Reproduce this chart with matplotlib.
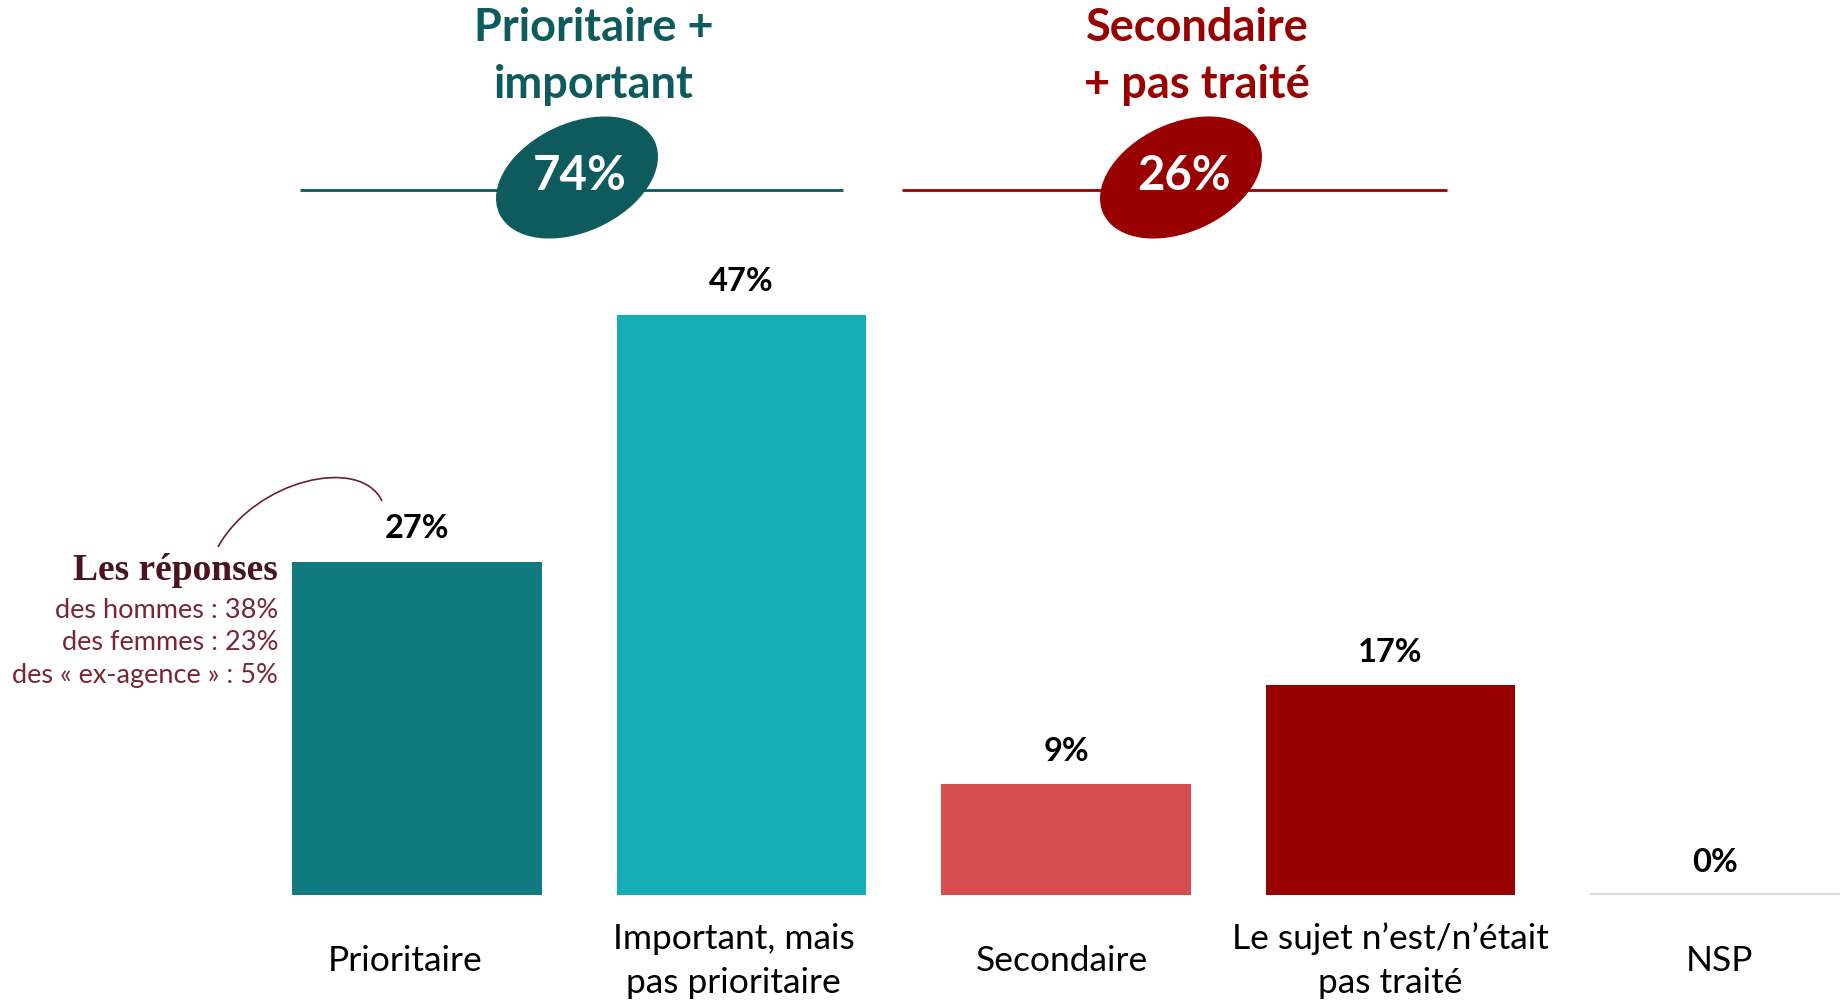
import matplotlib
matplotlib.use("Agg")
import matplotlib.pyplot as plt
from matplotlib.patches import Ellipse, PathPatch
from matplotlib.path import Path
from matplotlib.transforms import ScaledTranslation

# ---------------- data ----------------
categories = ["Prioritaire", "Important, mais\npas prioritaire", "Secondaire",
              "Le sujet n\u2019est/n\u2019était\npas traité", "NSP"]
values = [27, 47, 9, 17, 0]
bar_colors = ["#107a80", "#14afb6", "#d84e50", "#990000", "#d9d9d9"]

group_titles = ["Prioritaire +\nimportant", "Secondaire\n+ pas traité"]
group_totals = ["74%", "26%"]
group_colors = ["#0e5b5d", "#990000"]

note_title = "Les réponses"
note_lines = ["des hommes : 38%", "des femmes : 23%", "des \u00ab ex-agence \u00bb : 5%"]

W, H = 1842, 1001
fig = plt.figure(figsize=(W / 100, H / 100), dpi=100)
fig.patch.set_facecolor("white")

# ---------------- bar axes ----------------
px_per_unit = 12.35
bottom_px = 895
left_px = 417 - 162.25
ax = fig.add_axes([left_px / W, (H - bottom_px) / H, 1622.5 / W, 60 * px_per_unit / H])
ax.set_xlim(-0.5, 4.5)
ax.set_ylim(0, 60)
x = list(range(len(values)))
bw = 0.77
for xi, v, c in zip(x, values, bar_colors):
    if v > 0:
        ax.bar(xi, v, width=bw, color=c, zorder=2)
    else:
        ax.hlines(0, xi - bw / 2, xi + bw / 2, color=c, lw=3, zorder=2)
    ax.annotate(f"{v}%", (xi, v), xytext=(0, 23.5), textcoords="offset points",
                ha="center", va="center", fontsize=23.5, fontweight="bold",
                family="Lato", color="black")

ax.set_xticks(x)
ax.set_xticklabels(categories, family="Lato", fontsize=25.5, linespacing=1.45)
ax.tick_params(axis="x", length=0, pad=47.5)
label_shift_px = [-12, -8, -4, 0, 4]
for lab, dx in zip(ax.get_xticklabels(), label_shift_px):
    lab.set_va("center")
    lab.set_transform(lab.get_transform() + ScaledTranslation(dx / 100, 0, fig.dpi_scale_trans))
ax.set_yticks([])
for s in ax.spines.values():
    s.set_visible(False)
ax.patch.set_alpha(0)

# ---------------- overlay (pixel layout) ----------------
ov = fig.add_axes([0, 0, 1, 1], zorder=5)
ov.set_xlim(0, W)
ov.set_ylim(H, 0)
ov.axis("off")
ov.patch.set_alpha(0)

line_spans = [(300, 843), (902, 1447)]
title_x = [594, 1197]
ell_c = [(577, 177.5), (1181, 177.5)]
for t, tot, col, (x0, x1), tx, (ex, ey) in zip(group_titles, group_totals, group_colors,
                                                line_spans, title_x, ell_c):
    ov.plot([x0, x1], [189.5, 189.5], color=col, lw=2, solid_capstyle="butt")
    ov.add_patch(Ellipse((ex, ey), 170, 107, angle=-25, color=col, zorder=3))
    l1, l2 = t.split("\n")
    ov.text(tx, 41, l1, ha="center", va="baseline", fontsize=32.5, fontweight="bold",
            family="Lato", color=col)
    ov.text(tx, 98, l2, ha="center", va="baseline", fontsize=32.5, fontweight="bold",
            family="Lato", color=col)
    ov.text(ex + 3, 190, tot, ha="center", va="baseline", fontsize=34, fontweight="bold",
            family="Lato", color="white", zorder=4)

# annotation
ov.text(278, 580, note_title, ha="right", va="baseline", fontsize=27, fontweight="bold",
        family="Liberation Serif", color="#4a1520")
for i, ln in enumerate(note_lines):
    ov.text(278, 618 + 32.5 * i, ln, ha="right", va="baseline", fontsize=19.5,
            family="Lato", color="#7a2632")
curve = Path([(218, 547), (255, 480), (360, 455), (382, 501)],
             [Path.MOVETO, Path.CURVE4, Path.CURVE4, Path.CURVE4])
ov.add_patch(PathPatch(curve, fill=False, edgecolor="#6b1f2c", lw=1.2))

fig.savefig("out.png", dpi=100, facecolor="white")
